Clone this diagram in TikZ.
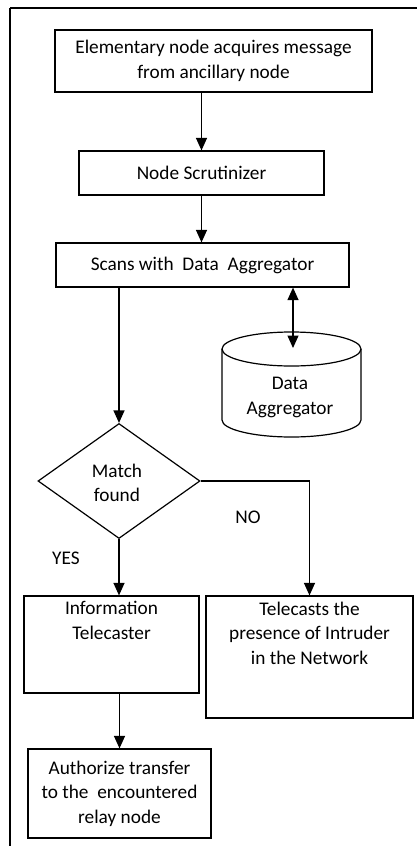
\documentclass[tikz,border=0pt]{standalone}
\usepackage{fontspec}
\setmainfont{Carlito}
\usetikzlibrary{arrows.meta,shapes.geometric,calc}
\begin{document}
\begin{tikzpicture}[x=1pt,y=1pt,
  line width=1.2pt,
  every node/.style={font=\fontsize{19.3}{24.5}\selectfont, inner sep=0pt},
  box/.style={draw, rectangle, align=center},
  txt/.style={align=center},
  arr/.style={-{Triangle[length=12.5pt,width=11pt]}},
  darr/.style={{Triangle[length=12.5pt,width=11pt]}-{Triangle[length=12.5pt,width=11pt]}}]
\useasboundingbox (0,0) rectangle (417,-846);
% frame
\draw (10,-8) -- (417,-8);
\draw (10,-8) -- (10,-846);
% boxes
\node[box, minimum width=317pt, minimum height=62pt] (b1) at (213.5,-61) {Elementary node acquires message\\from ancillary node};
\node[box, minimum width=245pt, minimum height=44pt] (b2) at (201.5,-173) {Node Scrutinizer};
\node[box, minimum width=293pt, minimum height=44pt] (b3) at (202.5,-265) {Scans with\ \ Data\ \ Aggregator};
% cylinder
\draw[fill=white] (222,-349) -- (222,-420) arc[start angle=180,end angle=360,x radius=69.5,y radius=17] -- (361,-349);
\draw (291.5,-349) ellipse[x radius=69.5,y radius=17];
\node[txt] (cyl) at (290,-397.5) {Data\\Aggregator};
\coordinate (cyltop) at (293,-348);
% diamond
\node[draw, diamond, minimum width=162pt, minimum height=115pt] (dm) at (119,-481) {};
\node[txt] (dmt) at (117,-483) {Match\\found};
\node (no) at (248,-517) {NO};
\node (yes) at (66,-558) {YES};
% lower boxes
\node[box, minimum width=175pt, minimum height=97pt] (b4) at (111.5,-644.5) {};
\node[txt, anchor=north] (b4t) at (111.5,-601) {Information\\Telecaster};
\node[box, minimum width=207pt, minimum height=122pt] (b5) at (309.5,-657) {};
\node[txt, anchor=north] (b5t) at (309.5,-601) {Telecasts the\\presence of Intruder\\in the Network};
\node[box, minimum width=183pt, minimum height=89pt] (b6) at (119.5,-793.5) {Authorize transfer\\to the\ \ encountered\\relay node};
% connectors
\draw[arr] (b2.north |- b1.south) -- (b2.north);
\draw[arr] (b2.south) -- (b2.south |- b3.north);
\draw[arr] (dm.north |- b3.south) -- (dm.north);
\draw[darr] (b3.south -| cyltop) -- (cyltop);
\draw[arr] (dm.east) -| (b5.north);
\draw[arr] (dm.south) -- (dm.south |- b4.north);
\draw[arr] (b6.north |- b4.south) -- (b6.north);
\end{tikzpicture}
\end{document}
